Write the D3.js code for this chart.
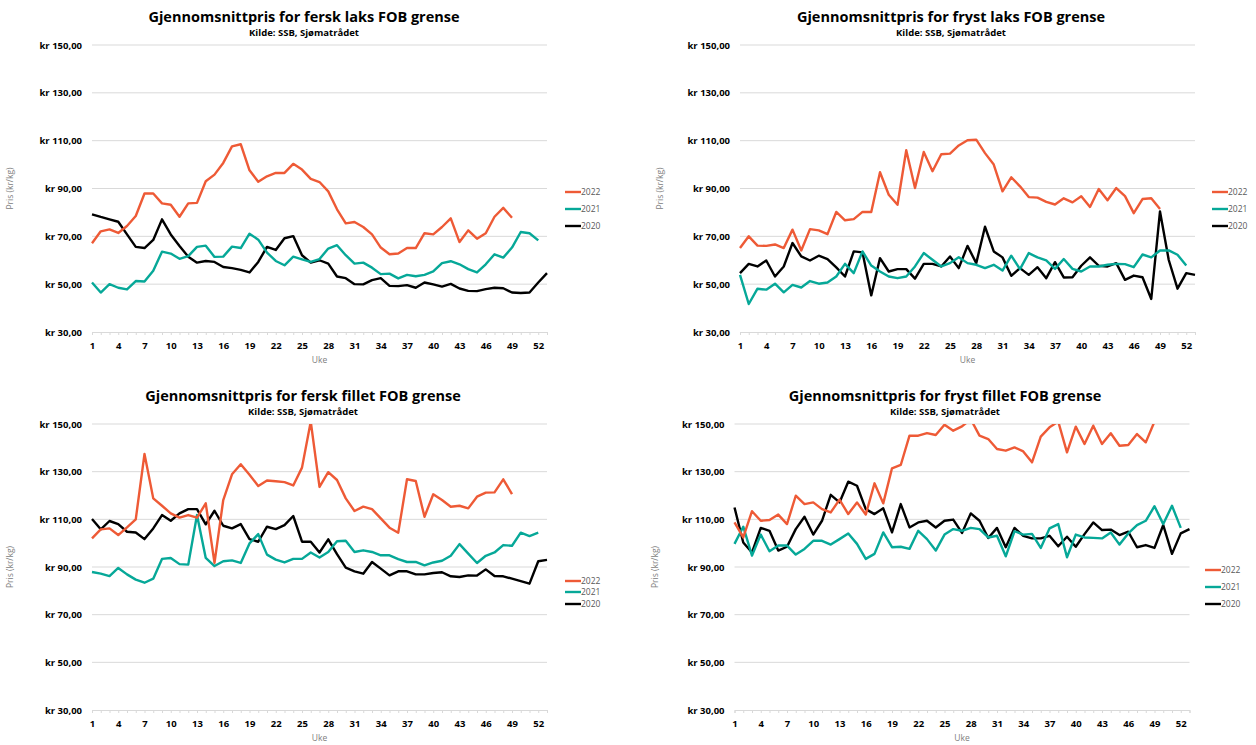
<!DOCTYPE html>
<html>
<head>
<meta charset="utf-8">
<script src="https://cdn.jsdelivr.net/npm/d3@7"></script>
<style>
  body { margin: 0; background: #fff; }
  svg { display: block; font-family: "Open Sans", sans-serif; }
</style>
</head>
<body>
<svg id="chart" width="1256" height="745"></svg>
<script>
// weeks and tick labels
var weeks = d3.range(1, 54);
var weekLabels = [1, 4, 7, 10, 13, 16, 19, 22, 25, 28, 31, 34, 37, 40, 43, 46, 49, 52];
var yTicks = [30, 50, 70, 90, 110, 130, 150];
var years = ['2022', '2021', '2020'];

// fersk laks
var ferskLaks2022 = [67.1,72.1,72.9,71.4,74.3,78.5,87.9,87.9,83.8,83.2,78.2,83.8,84,93,95.8,100.7,107.6,108.5,97.6,92.8,95.1,96.5,96.5,100.3,97.9,94,92.7,88.8,81.3,75.4,76,73.9,70.8,65.3,62.5,62.8,65.1,65.1,71.3,70.8,73.9,77.5,67.6,72.5,69,71.3,78.2,81.9,77.8];
var ferskLaks2021 = [50.7,46.5,50,48.5,47.8,51.3,51.1,55.6,63.6,62.8,60.6,61.7,65.6,66.1,61.4,61.5,65.7,65.1,71.1,68.6,63.2,59.7,57.9,61.5,60.4,59.3,60.5,64.9,66.3,62.1,58.6,59,56.9,54.2,54.4,52.4,53.9,53.3,53.9,55.3,58.8,59.6,58.3,56.3,54.9,58.3,62.5,61.1,65.3,71.8,71.3,68.3];
var ferskLaks2020 = [79.2,78.1,77.1,76.1,70.8,65.6,65.1,68.5,77.1,70.8,66,61.5,59,59.7,59.3,57.2,56.7,56,54.9,59.3,65.6,64.3,69.2,70.1,62.1,59,60,58.6,53.2,52.5,50,49.9,51.7,52.5,49.3,49.2,49.6,48.5,50.7,49.9,49,50.1,48.2,47.2,47.1,47.9,48.5,48.3,46.5,46.3,46.5,50.7,54.6];

// fryst laks
var frystLaks2022 = [65.1,70,66.1,66,66.6,65.1,72.8,64.1,73,72.5,70.9,80.2,76.7,77.2,80.2,80.2,96.8,87.4,83.2,106,90.2,105.3,97.2,104.3,104.6,108,110.2,110.4,104.8,100,88.8,94.7,90.9,86.4,86.2,84.4,83.3,85.9,84.2,86.8,82.3,89.8,85.1,90.2,86.8,79.7,85.6,85.9,81.4];
var frystLaks2021 = [53.9,41.7,48.1,47.7,50.2,46.6,49.7,48.6,51.3,50.2,50.7,53.2,58.5,54.6,63.7,57.8,55.3,53.2,52.5,53.2,57.4,63,60.2,57.4,58.8,61.3,58.8,58.1,56.7,58.1,55.7,61.9,56.3,63,61.2,59.9,56.4,60.5,56.4,55.3,57.4,57.4,58.1,58.5,58.4,57.1,62.4,61.2,64.1,64.1,62.3,57.8];
var frystLaks2020 = [54.6,58.5,57.4,59.9,53.2,57.4,67.2,61.6,59.9,61.9,60.5,57,53.2,63.7,63.3,45.3,60.9,55.3,56.3,56.3,52.3,58.5,58.5,57.4,61.6,56.7,66,58.8,74,63.7,61.2,53.5,56.7,53.9,57.1,52.5,59.2,52.8,52.9,57.7,61.2,57.7,57.4,58.8,51.8,53.6,52.9,43.8,80.4,60.1,48.1,54.6,53.9];

// fersk fillet
var ferskFillet2022 = [102,105.8,106.2,103.4,106.6,110,137.4,118.8,115.7,112.5,110.7,111.8,110.7,116.7,91.7,118.1,128.9,133.1,128.7,124,126.3,126,125.6,124.2,131.7,151,123.6,129.8,126.5,118.8,113.5,115.3,114.3,110.4,106.5,104.4,126.8,126.1,111.1,120.5,118.1,115.3,115.7,114.6,119.5,121.2,121.3,126.8,120.6];
var ferskFillet2021 = [87.9,87.2,86.2,89.6,86.9,84.7,83.4,85.1,93.4,93.8,91.2,91,111.8,93.8,90.4,92.4,92.8,91.7,99.9,103.8,95.2,93.1,91.9,93.4,93.4,96.1,94,96.3,100.8,101,96.3,97,96.3,94.9,94.9,93.3,92.1,92.1,90.7,91.9,92.6,94.7,99.6,95.6,91.7,94.7,96.1,99.2,98.9,104.4,103,104.4];
var ferskFillet2020 = [110.1,105.8,109.3,108,104.8,104.5,101.7,106.2,111.8,109.4,112.5,114.3,114.3,107.9,113.6,107.3,106.2,108,101.7,100.6,106.9,105.9,107.6,111.4,100.6,100.6,96.1,101.6,95.4,89.7,88.2,87.2,92.1,89.3,86.5,88.2,88.2,86.9,86.9,87.5,87.8,86.1,85.8,86.5,86.4,89,86.2,86.1,85.1,84.1,83,92.4,93];

// fryst fillet
var frystFillet2022 = [108.7,102.4,113.4,109.4,109.7,112,108,119.9,116.4,117.1,114.3,112.9,118.3,112.2,117.1,112,125.1,116.7,131.4,132.8,145.1,145.1,146.2,145.4,149.7,147.2,149,152,145.1,143.7,139.5,138.8,140.2,138.5,133.9,144.7,148.6,151,138.1,148.9,141.6,149.3,141.6,146.1,140.9,141.2,145.8,142.3,151];
var frystFillet2021 = [99.7,106.9,94.8,103.6,96.6,99,99,95.2,97.6,101,101,99.4,101.7,104.1,99.7,93.4,95.5,104.5,98.3,98.5,97.6,105.2,101.7,96.9,103.6,105.9,105.2,106.4,105.9,102.4,103.1,94.5,105,103.6,103.9,98,106.2,108,94.1,103.6,102.4,102.2,102,104.5,99.4,104.1,107.6,109.4,115.5,108,115.7,106.4];
var frystFillet2020 = [115,100.3,96.1,106.4,105.2,96.9,98.5,105.9,111.1,103.6,109.4,120.3,117.1,125.8,124.1,114.3,112.2,114.6,104.5,116.4,106.6,108.7,109.4,106.6,109.4,109.9,104.3,112.5,109.4,102.2,106.4,98.3,106.4,103.1,102,102,103.1,98.7,102.7,98.5,103.8,108.7,105.5,105.7,103.4,104.8,98.3,99.2,98,107.6,95.5,104.1,105.9];

var colors = { '2022': '#ee5a36', '2021': '#06a898', '2020': '#000000' };

var panels = [
  { title: 'Gjennomsnittpris for fersk laks FOB grense', cx: 304, top: 0, x0: 92, x1: 547, y0: 45, y1: 332, yTitleX: 10, legX: 565, legY: [192, 209, 226],
    series: { '2022': ferskLaks2022, '2021': ferskLaks2021, '2020': ferskLaks2020 } },
  { title: 'Gjennomsnittpris for fryst laks FOB grense', cx: 951, top: 0, x0: 740, x1: 1195, y0: 45, y1: 332, yTitleX: 660, legX: 1212, legY: [192, 209, 226],
    series: { '2022': frystLaks2022, '2021': frystLaks2021, '2020': frystLaks2020 } },
  { title: 'Gjennomsnittpris for fersk fillet FOB grense', cx: 303, top: 379, x0: 92, x1: 547, y0: 424, y1: 710, yTitleX: 10, legX: 565, legY: [581, 592, 604],
    series: { '2022': ferskFillet2022, '2021': ferskFillet2021, '2020': ferskFillet2020 } },
  { title: 'Gjennomsnittpris for fryst fillet FOB grense', cx: 945, top: 379, x0: 734.5, x1: 1189.5, y0: 424, y1: 710, yTitleX: 655, legX: 1205, legY: [570, 587, 604],
    series: { '2022': frystFillet2022, '2021': frystFillet2021, '2020': frystFillet2020 } }
];

var svg = d3.select('#chart');
var fmt = function(v) { return 'kr ' + v + ',00'; };

panels.forEach(function(p, pi) {
  var g = svg.append('g');

  var x = d3.scalePoint().domain(weeks).range([p.x0, p.x1]);
  var y = d3.scaleLinear().domain([30, 150]).range([p.y1, p.y0]);

  // titles
  g.append('text')
      .attr('x', p.cx).attr('y', p.top + 22)
      .attr('text-anchor', 'middle')
      .style('font-size', '14.5px').style('font-weight', 700).style('fill', '#000')
      .text(p.title);
  g.append('text')
      .attr('x', p.cx).attr('y', p.top + 36)
      .attr('text-anchor', 'middle')
      .style('font-size', '9.5px').style('font-weight', 700).style('fill', '#000')
      .text('Kilde: SSB, Sjømatrådet');

  // gridlines
  g.append('g')
    .selectAll('line')
    .data(yTicks.filter(function(d) { return d > 30; }))
    .enter().append('line')
      .attr('x1', p.x0).attr('x2', p.x1)
      .attr('y1', function(d) { return y(d); })
      .attr('y2', function(d) { return y(d); })
      .style('stroke', '#d9d9d9').style('stroke-width', 1);

  // y axis labels
  var yAxis = d3.axisLeft(y).tickValues(yTicks).tickSize(0).tickPadding(10).tickFormat(fmt);
  var ya = g.append('g').attr('transform', 'translate(' + p.x0 + ',0)').call(yAxis);
  ya.select('.domain').remove();
  ya.selectAll('text').style('font-size', '9.5px').style('font-weight', 700).style('fill', '#000')
    .style('font-family', '"Open Sans", sans-serif');

  // x axis: minor ticks every week
  var xMinor = d3.axisBottom(x).tickValues(weeks).tickSize(3).tickFormat('');
  var xm = g.append('g').attr('transform', 'translate(0,' + p.y1 + ')').call(xMinor);
  xm.select('.domain').style('stroke', '#d9d9d9');
  xm.selectAll('.tick line').style('stroke', '#d9d9d9');

  var xAxis = d3.axisBottom(x).tickValues(weekLabels).tickSize(0).tickPadding(10);
  var xa = g.append('g').attr('transform', 'translate(0,' + p.y1 + ')').call(xAxis);
  xa.select('.domain').remove();
  xa.selectAll('text').style('font-size', '9.5px').style('font-weight', 700).style('fill', '#000')
    .style('font-family', '"Open Sans", sans-serif');

  g.append('text')
      .attr('x', (p.x0 + p.x1) / 2).attr('y', p.y1 + 31)
      .attr('text-anchor', 'middle')
      .style('font-size', '8.5px').style('fill', '#808080')
      .text('Uke');

  g.append('text')
      .attr('transform', 'translate(' + (p.yTitleX + 3) + ',' + ((p.y0 + p.y1) / 2) + ') rotate(-90)')
      .attr('text-anchor', 'middle')
      .style('font-size', '8.5px').style('fill', '#808080')
      .text('Pris (kr/kg)');

  // lines
  g.append('clipPath').attr('id', 'clip' + pi)
    .append('rect')
      .attr('x', p.x0 - 5).attr('y', p.y0)
      .attr('width', p.x1 - p.x0 + 10).attr('height', p.y1 - p.y0);

  var line = d3.line()
      .x(function(d, i) { return x(weeks[i]); })
      .y(function(d) { return y(d); });

  var lines = g.append('g').attr('clip-path', 'url(#clip' + pi + ')');
  years.slice().reverse().forEach(function(yr) {
    lines.append('path')
        .datum(p.series[yr])
        .attr('d', line)
        .style('fill', 'none')
        .style('stroke', colors[yr])
        .style('stroke-width', 2.4)
        .style('stroke-linejoin', 'round');
  });

  // legend
  var leg = g.append('g').selectAll('g')
      .data(years)
      .enter().append('g')
      .attr('transform', function(d, i) { return 'translate(' + p.legX + ',' + p.legY[i] + ')'; });
  leg.append('line')
      .attr('x1', 0).attr('x2', 16)
      .style('stroke', function(d) { return colors[d]; })
      .style('stroke-width', 2.4);
  leg.append('text')
      .attr('x', 16).attr('dy', '0.35em')
      .style('font-size', '8.5px').style('fill', '#595959')
      .text(function(d) { return d; });
});
</script>
</body>
</html>
